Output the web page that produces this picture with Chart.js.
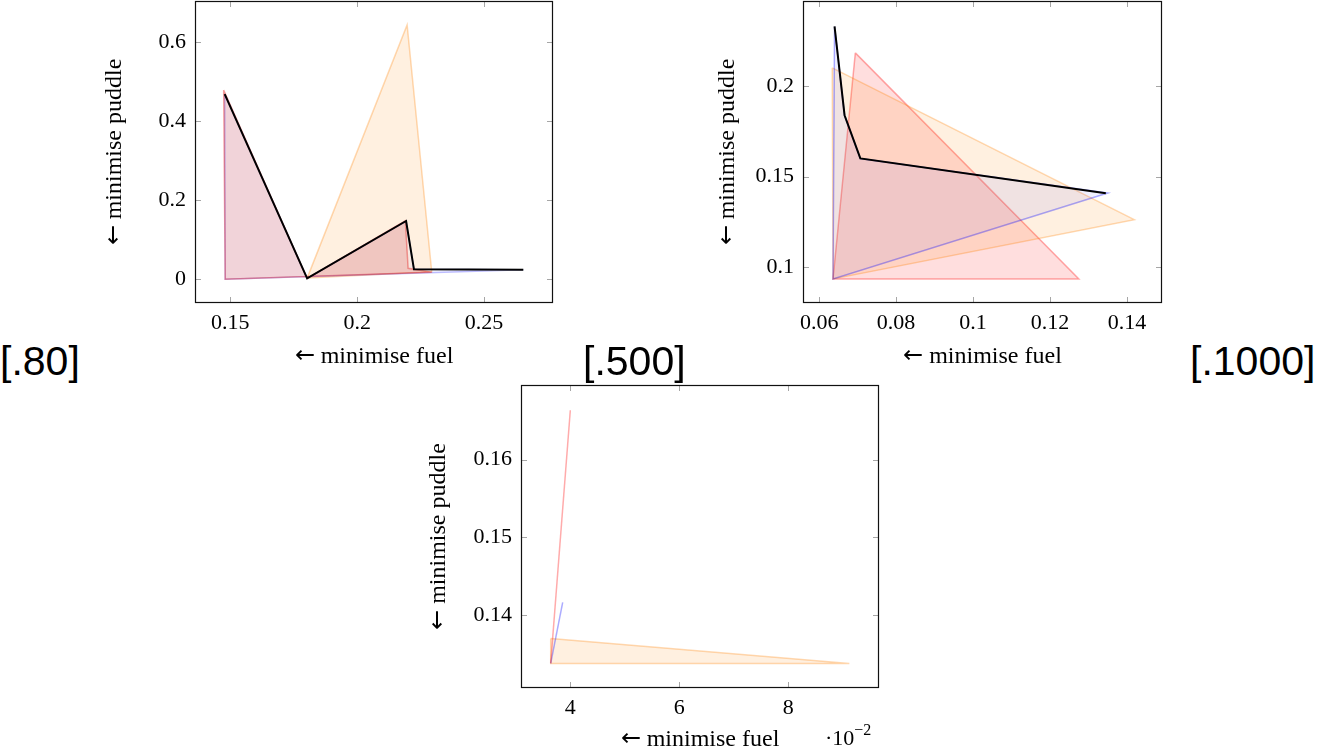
<!DOCTYPE html>
<html><head><meta charset="utf-8">
<script src="https://cdn.jsdelivr.net/npm/chart.js@4.4.1/dist/chart.umd.min.js"></script>
<style>
@font-face { font-family: 'ArrowFix'; src: local('DejaVu Sans'), local('DejaVuSans'); unicode-range: U+2190-21FF; }
html,body{margin:0;padding:0;width:1317px;height:748px;overflow:hidden;background:#fff;}
canvas{position:absolute;}
.tag{position:absolute;font-family:"Liberation Sans",Arial,sans-serif;font-size:41px;line-height:41px;color:#000;white-space:nowrap;}
.mult{position:absolute;font-family:"Liberation Serif",serif;font-size:22px;line-height:22px;color:#000;white-space:nowrap;}
.mult span{font-size:16px;line-height:0;vertical-align:10px;}
</style></head><body>
<canvas id="c1" width="470" height="380" style="left:95px;top:0px"></canvas>
<canvas id="c2" width="475" height="380" style="left:700px;top:0px"></canvas>
<canvas id="c3" width="490" height="380" style="left:400px;top:380px"></canvas>
<div class="tag" style="left:0px;top:341px">[.80]</div>
<div class="tag" style="left:583px;top:341px">[.500]</div>
<div class="tag" style="left:1190px;top:341px">[.1000]</div>
<div class="mult" style="left:825px;top:727px">·10<span>−2</span></div>
<script>
// ---------- Plot 1 ([.80]) ----------
const p1FrontFuel   = [0.1478, 0.1803, 0.2193, 0.2224, 0.2655];
const p1FrontPuddle = [0.469, 0.0025, 0.1476, 0.0253, 0.0243];
const p1BlueFuel    = [0.1478, 0.1803, 0.2193, 0.2224, 0.2655, 0.1480];
const p1BluePuddle  = [0.469, 0.0025, 0.1476, 0.0253, 0.0243, 0.0];
const p1RedFuel     = [0.1474, 0.1803, 0.2190, 0.2201, 0.2294, 0.1480];
const p1RedPuddle   = [0.479, 0.002, 0.148, 0.028, 0.018, 0.0];
const p1OrangeFuel  = [0.1803, 0.2197, 0.2294];
const p1OrangePuddle= [0.003, 0.644, 0.019];
const p1XTicks = [0.15, 0.2, 0.25];
const p1XTickLabels = ['0.15', '0.2', '0.25'];
const p1YTicks = [0, 0.2, 0.4, 0.6];
const p1YTickLabels = ['0', '0.2', '0.4', '0.6'];

// ---------- Plot 2 ([.500]) ----------
const p2FrontFuel   = [0.0640, 0.0666, 0.0707, 0.1345];
const p2FrontPuddle = [0.2332, 0.1840, 0.1601, 0.1408];
const p2BlueFuel    = [0.0640, 0.0666, 0.0707, 0.1350, 0.0636];
const p2BluePuddle  = [0.2330, 0.1840, 0.1600, 0.1410, 0.0934];
const p2OrangeFuel  = [0.0634, 0.1419, 0.0636];
const p2OrangePuddle= [0.2102, 0.1262, 0.0934];
const p2RedFuel     = [0.0694, 0.1275, 0.0636];
const p2RedPuddle   = [0.2185, 0.0934, 0.0934];
const p2XTicks = [0.06, 0.08, 0.1, 0.12, 0.14];
const p2XTickLabels = ['0.06', '0.08', '0.1', '0.12', '0.14'];
const p2YTicks = [0.1, 0.15, 0.2];
const p2YTickLabels = ['0.1', '0.15', '0.2'];

// ---------- Plot 3 ([.1000]) ----------
const p3RedFuel     = [0.0364, 0.0400];
const p3RedPuddle   = [0.13374, 0.16635];
const p3BlueFuel    = [0.0364, 0.0386];
const p3BluePuddle  = [0.13374, 0.1416];
const p3OrangeFuel  = [0.0364, 0.0912, 0.0364];
const p3OrangePuddle= [0.13696, 0.13374, 0.13374];
const p3XTicks = [0.04, 0.06, 0.08];
const p3XTickLabels = ['4', '6', '8'];
const p3YTicks = [0.14, 0.15, 0.16];
const p3YTickLabels = ['0.14', '0.15', '0.16'];

const SERIF = '"ArrowFix", "Liberation Serif", "DejaVu Serif", serif';
const COL = {
  red:     {line: 'rgba(255,0,0,0.33)',   fill: 'rgba(255,0,0,0.13)'},
  redDark: {line: 'rgba(225,20,20,0.38)', fill: 'rgba(205,30,30,0.17)'},
  blue:    {line: 'rgba(0,0,255,0.33)',   fill: 'rgba(0,0,255,0.06)'},
  blueLt:  {line: 'rgba(0,0,255,0.25)',   fill: 'rgba(0,0,255,0.03)'},
  orange:  {line: 'rgba(255,128,0,0.30)', fill: 'rgba(255,128,0,0.12)'}
};

function pts(xs, ys, close) {
  const p = xs.map((x, i) => ({x: x, y: ys[i]}));
  if (close && p.length > 2) p.push({x: xs[0], y: ys[0]});
  return p;
}
function poly(xs, ys, c) {
  return {data: pts(xs, ys, true), borderColor: COL[c].line, backgroundColor: COL[c].fill,
          borderWidth: 1.5, fill: 'shape', pointRadius: 0, showLine: true, tension: 0};
}
function front(xs, ys) {
  return {data: pts(xs, ys, false), borderColor: '#000', backgroundColor: 'transparent',
          borderWidth: 2, fill: false, pointRadius: 0, showLine: true, tension: 0};
}

const framePlugin = {
  id: 'frame',
  afterDatasetsDraw(chart) {
    const {ctx, chartArea: a, scales: {x, y}} = chart;
    ctx.save();
    ctx.strokeStyle = '#a6a6a6';
    ctx.lineWidth = 1;
    ctx.beginPath();
    x.ticks.forEach(t => {
      const px = Math.round(x.getPixelForValue(t.value)) + 0.5;
      ctx.moveTo(px, a.bottom); ctx.lineTo(px, a.bottom - 6);
      ctx.moveTo(px, a.top); ctx.lineTo(px, a.top + 6);
    });
    y.ticks.forEach(t => {
      const py = Math.round(y.getPixelForValue(t.value)) + 0.5;
      ctx.moveTo(a.left, py); ctx.lineTo(a.left + 6, py);
      ctx.moveTo(a.right, py); ctx.lineTo(a.right - 6, py);
    });
    ctx.stroke();
    ctx.strokeStyle = '#111';
    ctx.lineWidth = 1.2;
    ctx.strokeRect(a.left + 0.5, a.top + 0.5, a.right - a.left - 1, a.bottom - a.top - 1);
    ctx.restore();
  }
};

function makeChart(id, datasets, o) {
  new Chart(document.getElementById(id), {
    type: 'scatter',
    data: {datasets: datasets},
    plugins: [framePlugin],
    options: {
      responsive: false, animation: false, devicePixelRatio: 1,
      layout: {padding: {top: o.padTop, right: o.padRight, bottom: 0, left: 0}},
      plugins: {legend: {display: false}, tooltip: {enabled: false}},
      elements: {line: {tension: 0}},
      scales: {
        x: {
          type: 'linear', min: o.xMin, max: o.xMax,
          afterBuildTicks: s => { s.ticks = o.xTicks.map(v => ({value: v})); },
          afterFit: s => { s.height = o.xAxisH; s.paddingLeft = 0; s.paddingRight = 0; },
          ticks: {padding: 7, color: '#000', font: {family: SERIF, size: 22},
                  maxRotation: 0, autoSkip: false,
                  callback: (v, i) => o.xLabels[i]},
          grid: {display: false, drawTicks: false},
          border: {display: false},
          title: {display: true, text: '← minimise fuel', color: '#000',
                  font: {family: SERIF, size: 24, lineHeight: 1.2},
                  padding: {top: 0, bottom: o.xTitlePad}}
        },
        y: {
          type: 'linear', min: o.yMin, max: o.yMax,
          afterBuildTicks: s => { s.ticks = o.yTicks.map(v => ({value: v})); },
          afterFit: s => { s.width = o.yAxisW; s.paddingTop = 0; s.paddingBottom = 0; },
          ticks: {padding: 9, color: '#000', font: {family: SERIF, size: 22},
                  autoSkip: false, callback: (v, i) => o.yLabels[i]},
          grid: {display: false, drawTicks: false},
          border: {display: false},
          title: {display: true, text: '← minimise puddle', color: '#000',
                  font: {family: SERIF, size: 24, lineHeight: 1.2},
                  padding: {top: o.yTitlePad, bottom: 0}}
        }
      }
    }
  });
}

function drawAll() {
  makeChart('c1', [
    front(p1FrontFuel, p1FrontPuddle),
    poly(p1RedFuel, p1RedPuddle, 'redDark'),
    poly(p1BlueFuel, p1BluePuddle, 'blueLt'),
    poly(p1OrangeFuel, p1OrangePuddle, 'orange')
  ], {xMin: 0.1361, xMax: 0.2772, yMin: -0.06, yMax: 0.7046,
      xTicks: p1XTicks, xLabels: p1XTickLabels, yTicks: p1YTicks, yLabels: p1YTickLabels,
      padTop: 1, padRight: 12, xAxisH: 77, yAxisW: 100, xTitlePad: 8.6, yTitlePad: 5.6});

  makeChart('c2', [
    front(p2FrontFuel, p2FrontPuddle),
    poly(p2BlueFuel, p2BluePuddle, 'blue'),
    poly(p2OrangeFuel, p2OrangePuddle, 'orange'),
    poly(p2RedFuel, p2RedPuddle, 'red')
  ], {xMin: 0.0558, xMax: 0.1491, yMin: 0.0801, yMax: 0.2472,
      xTicks: p2XTicks, xLabels: p2XTickLabels, yTicks: p2YTicks, yLabels: p2YTickLabels,
      padTop: 1, padRight: 13, xAxisH: 77, yAxisW: 103, xTitlePad: 8.6, yTitlePad: 13.6});

  makeChart('c3', [
    poly(p3RedFuel, p3RedPuddle, 'red'),
    poly(p3BlueFuel, p3BluePuddle, 'blue'),
    poly(p3OrangeFuel, p3OrangePuddle, 'orange')
  ], {xMin: 0.03095, xMax: 0.09664, yMin: 0.13057, yMax: 0.1696,
      xTicks: p3XTicks, xLabels: p3XTickLabels, yTicks: p3YTicks, yLabels: p3YTickLabels,
      padTop: 5, padRight: 11, xAxisH: 72, yAxisW: 121, xTitlePad: 5.6, yTitlePad: 24.6});
}

let done = false;
function go() { if (!done) { done = true; drawAll(); } }
if (document.fonts && document.fonts.load) {
  Promise.all([
    document.fonts.load('24px ArrowFix', '←'),
    document.fonts.load('22px "Liberation Serif"', '0.15')
  ]).then(go, go);
  setTimeout(go, 400);
} else { go(); }
</script>
</body></html>
